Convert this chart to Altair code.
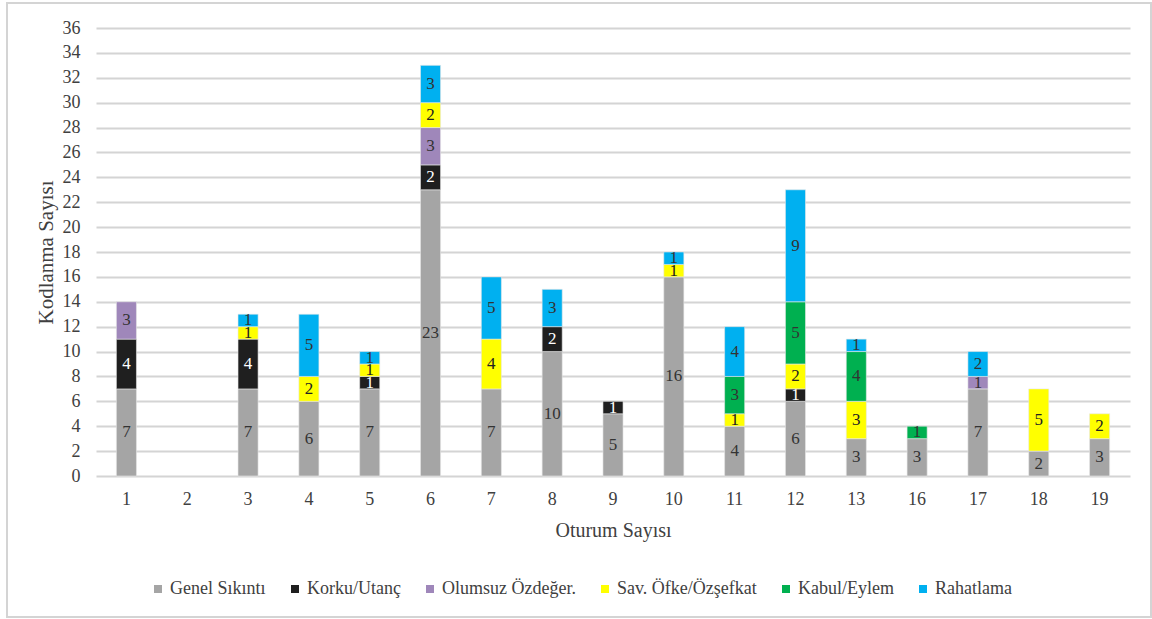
import altair as alt
import pandas as pd

# Sessions shown on the x axis (session 2 has no codings)
sessions = ["1", "2", "3", "4", "5", "6", "7", "8", "9", "10", "11", "12", "13", "16", "17", "18", "19"]

categories = ["Genel Sıkıntı", "Korku/Utanç", "Olumsuz Özdeğer.", "Sav. Öfke/Özşefkat", "Kabul/Eylem", "Rahatlama"]
colors = ["#a5a5a5", "#1f1f1f", "#9f87ba", "#ffff00", "#00b050", "#00b0f0"]
label_colors = ["#333333", "#ffffff", "#333333", "#222222", "#333333", "#333333"]

# Coding counts per session, one list per category (aligned with `sessions`)
genel_sikinti = [7, 0, 7, 6, 7, 23, 7, 10, 5, 16, 4, 6, 3, 3, 7, 2, 3]
korku_utanc   = [4, 0, 4, 0, 1, 2, 0, 2, 1, 0, 0, 1, 0, 0, 0, 0, 0]
olumsuz       = [3, 0, 0, 0, 0, 3, 0, 0, 0, 0, 0, 0, 0, 0, 1, 0, 0]
sav_ofke      = [0, 0, 1, 2, 1, 2, 4, 0, 0, 1, 1, 2, 3, 0, 0, 5, 2]
kabul_eylem   = [0, 0, 0, 0, 0, 0, 0, 0, 0, 0, 3, 5, 4, 1, 0, 0, 0]
rahatlama     = [0, 0, 1, 5, 1, 3, 5, 3, 0, 1, 4, 9, 1, 0, 2, 0, 0]

series = [genel_sikinti, korku_utanc, olumsuz, sav_ofke, kabul_eylem, rahatlama]

rows = []
for ci, (cat, vals) in enumerate(zip(categories, series)):
    for s, v in zip(sessions, vals):
        if v > 0:
            rows.append({"Oturum": s, "Kategori": cat, "Sayı": v, "sira": ci})
df = pd.DataFrame(rows)

serif = "Liberation Serif"
text_grey = "#404040"

base = alt.Chart(df).transform_stack(
    stack="Sayı", groupby=["Oturum"], as_=["y0", "y1"],
    sort=[alt.SortField("sira", order="ascending")],
).transform_calculate(
    mid="(datum.y0 + datum.y1) / 2"
)

x_scale = alt.Scale(domain=sessions, paddingInner=0.67, paddingOuter=0.335)
y_scale = alt.Scale(domain=[0, 36], nice=False)

# Axes shared by both layers so they merge cleanly
x_axis = alt.Axis(title="Oturum Sayısı", labelAngle=0, labelFont=serif, labelFontSize=18,
                  labelColor=text_grey, titleFont=serif, titleFontSize=20, titleFontWeight="normal",
                  titleColor=text_grey, ticks=False, domain=False, labelPadding=14, titlePadding=12)
y_axis = alt.Axis(title="Kodlanma Sayısı", values=list(range(0, 37, 2)), labelOverlap=False,
                  labelFont=serif, labelFontSize=18, labelColor=text_grey, titleFont=serif,
                  titleFontSize=21, titleFontWeight="normal", titleColor=text_grey,
                  ticks=False, domain=False, gridColor="#d4d4d4", gridWidth=2,
                  labelPadding=16, titlePadding=6)

bars = base.mark_bar(stroke="#e8e8e8", strokeWidth=0.6).encode(
    x=alt.X("Oturum:N", scale=x_scale, axis=x_axis),
    y=alt.Y("y0:Q", scale=y_scale, axis=y_axis),
    y2="y1:Q",
    color=alt.Color(
        "Kategori:N",
        scale=alt.Scale(domain=categories, range=colors),
        legend=alt.Legend(
            title=None, orient="none", direction="horizontal", legendX=53, legendY=552,
            symbolType="square", symbolSize=64, symbolStrokeWidth=0,
            labelFont=serif, labelFontSize=18, labelColor=text_grey,
            columnPadding=20, labelOffset=3,
        ),
    ),
)

labels = base.mark_text(font=serif, fontSize=17, baseline="middle").encode(
    x=alt.X("Oturum:N", scale=x_scale, axis=x_axis),
    y=alt.Y("mid:Q", scale=y_scale, axis=y_axis),
    text=alt.Text("Sayı:Q"),
    color=alt.Color("Kategori:N", scale=alt.Scale(domain=categories, range=label_colors), legend=None),
)

# Light outer frame around the whole figure
frame = alt.Chart(pd.DataFrame({"f": [0]})).mark_rect(
    fill=None, stroke="#d4d4d4", strokeWidth=2, clip=False
).encode(
    x=alt.value(-89), x2=alt.value(1055), y=alt.value(-25), y2=alt.value(589)
)

chart = alt.layer(frame, bars, labels).resolve_scale(color="independent").properties(
    width=1034, height=448,
    autosize=alt.AutoSizeParams(type="none"),
    padding={"left": 96, "top": 28, "right": 22, "bottom": 143},
).configure(
    background="white", font=serif
).configure_view(
    stroke=None
)

chart.save("out.html", embed_options={"renderer": "svg", "actions": False})
